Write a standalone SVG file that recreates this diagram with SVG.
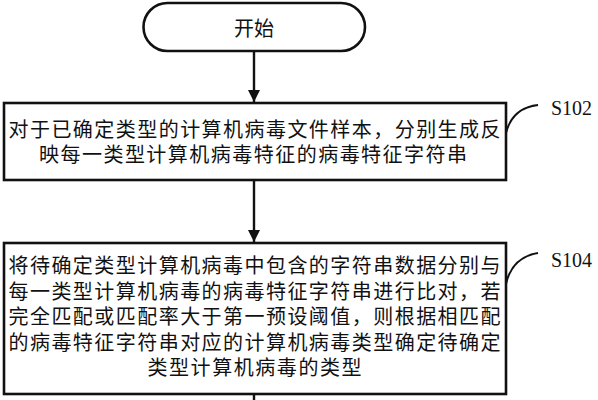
<svg xmlns="http://www.w3.org/2000/svg" width="598" height="400" viewBox="0 0 598 400">
<style>
.box{fill:#fff;stroke:#111;stroke-width:2.6}
.t{font-family:"Noto Sans CJK SC","Noto Sans",sans-serif;font-size:20px;fill:#111;text-anchor:middle}
.lbl{font-family:"Liberation Serif","Times New Roman",serif;font-size:20px;fill:#111}
.con{fill:none;stroke:#111;stroke-width:2.4}
.lead{fill:none;stroke:#111;stroke-width:2}
</style>
<defs>
<marker id="ah" viewBox="0 0 12 13" refX="12" refY="6" markerWidth="12" markerHeight="13" markerUnits="userSpaceOnUse" orient="auto">
<path d="M0,0 L13,6 L0,12 Z" fill="#111" transform="scale(0.92,1)"/>
</marker>
</defs>
<rect width="598" height="400" fill="#fff"/>
<g id="start">
<rect class="box" x="143.5" y="3" width="221.5" height="48" rx="24" ry="24"/>
<text class="t" x="254" y="35.5">开始</text>
</g>
<g id="s102">
<rect class="box" x="4" y="103" width="502" height="77"/>
<text class="t" x="254.5" y="137" textLength="492" lengthAdjust="spacing">对于已确定类型的计算机病毒文件样本，分别生成反</text>
<text class="t" x="253" y="161.5" textLength="428" lengthAdjust="spacing">映每一类型计算机病毒特征的病毒特征字符串</text>
</g>
<g id="s104">
<rect class="box" x="4" y="243" width="502" height="151"/>
<text class="t" x="254.5" y="273" textLength="492" lengthAdjust="spacing">将待确定类型计算机病毒中包含的字符串数据分别与</text>
<text class="t" x="254.5" y="298.5" textLength="492" lengthAdjust="spacing">每一类型计算机病毒的病毒特征字符串进行比对，若</text>
<text class="t" x="254.5" y="324" textLength="492" lengthAdjust="spacing">完全匹配或匹配率大于第一预设阈值，则根据相匹配</text>
<text class="t" x="254.5" y="349.5" textLength="492" lengthAdjust="spacing">的病毒特征字符串对应的计算机病毒类型确定待确定</text>
<text class="t" x="254.5" y="375" textLength="214" lengthAdjust="spacing">类型计算机病毒的类型</text>
</g>
<g id="label-s102">
<path class="lead" d="M506,133 C510,117 520,107 538,105"/>
<text class="lbl" x="551" y="115">S102</text>
</g>
<g id="label-s104">
<path class="lead" d="M506,284 C510,266 520,256 538,253"/>
<text class="lbl" x="551" y="266.5">S104</text>
</g>
<g id="connectors">
<line class="con" x1="254" y1="51" x2="254" y2="102" marker-end="url(#ah)"/>
<line class="con" x1="254" y1="180" x2="254" y2="242" marker-end="url(#ah)"/>
<line class="con" x1="254" y1="394" x2="254" y2="400"/>
</g>
</svg>
